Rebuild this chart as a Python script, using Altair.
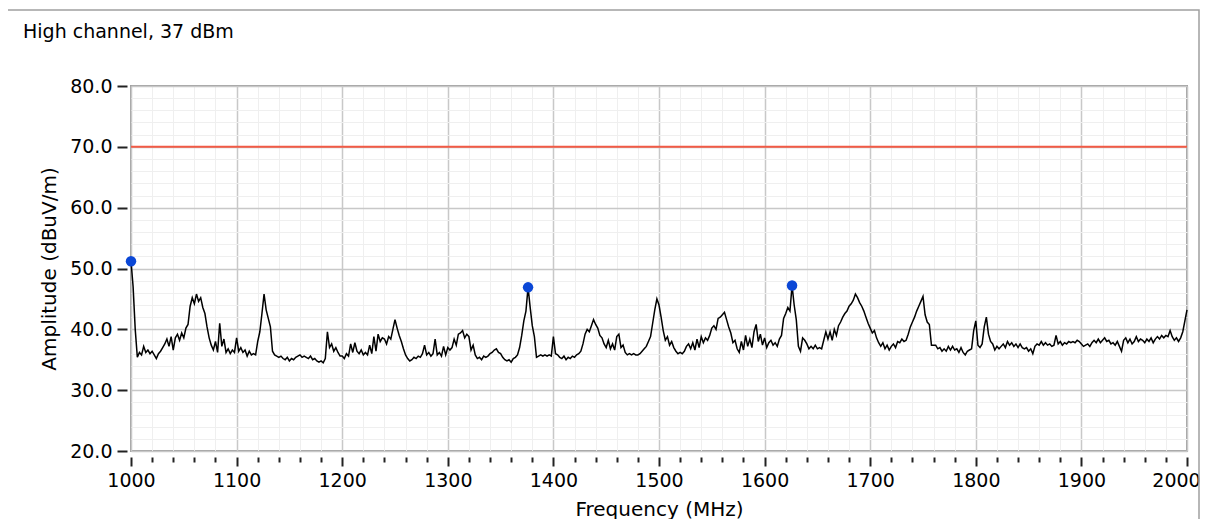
import altair as alt
import pandas as pd

# ---- data (2 MHz steps, 1000..2000 MHz) ----
seg_1000 = [51.2, 47.0, 40.0, 35.4, 36.2, 35.8, 37.2, 36.2, 36.6, 36.0,
            36.4, 35.8, 35.2, 36.0, 36.4, 37.0, 37.6, 38.4, 37.2, 38.8,
            36.6, 38.6, 39.2, 38.2, 39.4, 38.6, 40.2, 40.8, 43.8, 45.2,
            44.2, 45.8, 44.6, 45.2, 43.6, 42.6, 40.4, 38.6, 37.4, 36.6,
            38.0, 36.2, 41.0, 37.2, 38.4, 36.2, 36.8, 36.0, 36.6, 36.2]
seg_1100 = [38.6, 36.4, 37.0, 36.2, 36.6, 35.6, 36.4, 35.8, 36.0, 35.8,
            38.0, 39.6, 42.6, 45.8, 43.2, 41.8, 40.4, 36.4, 35.8, 35.6,
            35.4, 35.6, 35.2, 35.0, 35.4, 34.8, 35.2, 35.0, 35.4, 35.6,
            35.8, 35.4, 35.6, 35.4, 35.2, 35.6, 35.0, 35.2, 34.8, 34.6,
            34.8, 34.5, 35.2, 39.6, 37.0, 37.6, 36.4, 37.0, 36.2, 35.6]
seg_1200 = [35.6, 35.2, 36.0, 35.6, 37.6, 36.2, 37.8, 36.4, 36.0, 36.6,
            35.8, 36.2, 35.8, 37.4, 36.0, 38.8, 36.4, 39.2, 38.0, 38.6,
            38.4, 37.6, 38.8, 38.4, 40.0, 41.6, 40.2, 39.0, 38.0, 36.8,
            35.8, 35.2, 34.8, 35.0, 35.4, 35.2, 35.6, 35.4, 36.0, 37.4,
            35.8, 36.2, 35.6, 36.0, 38.4, 35.8, 36.2, 35.6, 37.2, 35.8]
seg_1300 = [37.0, 36.6, 37.0, 38.4, 37.4, 39.2, 39.4, 39.8, 38.6, 39.2,
            38.8, 36.6, 37.4, 35.8, 35.2, 35.4, 35.0, 35.6, 35.4, 35.6,
            36.0, 36.2, 36.6, 36.8, 36.2, 36.0, 35.4, 35.0, 34.8, 35.0,
            34.6, 35.2, 35.4, 35.8, 37.0, 39.0, 41.4, 43.0, 46.9, 43.6,
            40.6, 38.8, 35.4, 35.6, 35.8, 35.6, 35.8, 35.6, 35.8, 35.6]
seg_1400 = [38.8, 36.0, 35.8, 35.4, 35.2, 35.6, 35.0, 35.4, 35.2, 35.6,
            35.4, 35.8, 36.0, 36.4, 37.6, 39.2, 40.0, 39.6, 40.6, 41.6,
            40.8, 40.2, 39.0, 38.6, 37.6, 37.0, 38.2, 36.8, 37.6, 36.6,
            38.8, 39.2, 37.0, 37.4, 36.2, 35.8, 36.0, 35.8, 36.0, 35.8,
            35.8, 36.0, 36.4, 36.8, 37.2, 38.0, 38.8, 41.0, 43.2, 45.0]
seg_1500 = [44.0, 42.0, 39.8, 38.2, 38.8, 37.4, 38.0, 37.0, 36.4, 36.0,
            36.2, 36.0, 36.4, 37.2, 37.6, 36.8, 37.8, 36.6, 38.4, 37.0,
            38.8, 37.8, 38.6, 38.2, 39.0, 40.2, 40.6, 40.0, 41.8, 42.0,
            42.4, 42.8, 41.6, 40.4, 39.4, 37.8, 38.2, 36.8, 36.2, 38.0,
            36.6, 39.0, 37.2, 38.4, 37.0, 39.6, 40.8, 38.0, 39.2, 37.4]
seg_1600 = [38.6, 37.0, 37.8, 38.2, 37.4, 37.8, 37.2, 38.4, 39.0, 41.8,
            42.6, 43.6, 43.0, 47.2, 44.0, 41.6, 37.2, 36.4, 38.6, 38.2,
            37.6, 36.8, 37.2, 36.8, 37.4, 36.8, 37.0, 36.8, 38.2, 39.6,
            38.4, 39.6, 38.2, 40.0, 39.0, 40.6, 41.2, 42.0, 42.6, 43.0,
            43.8, 44.2, 44.8, 45.8, 45.2, 44.4, 43.8, 43.0, 42.0, 41.0]
seg_1700 = [40.2, 39.4, 39.8, 38.6, 37.8, 37.2, 37.8, 36.8, 37.4, 36.6,
            37.2, 37.6, 37.0, 38.0, 37.8, 38.4, 38.0, 38.2, 39.2, 40.4,
            41.2, 42.0, 43.0, 43.8, 44.6, 45.4, 42.4, 41.2, 40.8, 37.4,
            37.4, 37.4, 36.8, 37.0, 36.4, 36.8, 36.4, 37.2, 36.6, 37.2,
            36.6, 36.8, 36.2, 37.0, 36.2, 35.8, 36.4, 36.6, 36.8, 39.8]
seg_1800 = [41.4, 37.4, 37.0, 37.6, 40.4, 42.0, 39.2, 38.0, 37.6, 36.6,
            37.2, 36.8, 37.2, 37.6, 37.0, 38.0, 37.4, 37.8, 37.2, 37.6,
            37.0, 37.6, 37.0, 36.8, 37.0, 36.4, 36.8, 36.0, 37.2, 37.6,
            37.4, 38.0, 37.4, 37.8, 37.4, 37.6, 37.2, 37.4, 39.0, 37.6,
            38.0, 37.4, 37.8, 37.6, 38.0, 37.8, 38.0, 37.8, 38.2, 38.0]
seg_1900 = [37.6, 37.2, 37.4, 37.6, 37.2, 37.8, 38.2, 37.8, 38.4, 37.8,
            38.2, 38.6, 38.0, 38.2, 37.6, 37.8, 37.4, 38.0, 37.2, 36.4,
            38.2, 38.6, 37.8, 38.4, 37.6, 38.0, 38.8, 38.0, 38.4, 38.2,
            37.8, 38.4, 38.0, 38.6, 37.8, 38.4, 38.8, 38.4, 39.0, 38.6,
            39.0, 38.8, 39.8, 38.8, 38.2, 38.6, 38.0, 38.6, 39.6, 41.4,
            43.2]

segments = [(1000, seg_1000), (1100, seg_1100), (1200, seg_1200), (1300, seg_1300),
            (1400, seg_1400), (1500, seg_1500), (1600, seg_1600), (1700, seg_1700),
            (1800, seg_1800), (1900, seg_1900)]

peak_freq = [1000, 1376, 1626]
peak_amp = [51.2, 46.9, 47.2]
limit_value = [70.0]

x_ticks = list(range(1000, 2001, 20))
y_ticks = list(range(20, 81, 2))

freq, amp = [], []
for start, seg in segments:
    for i, v in enumerate(seg):
        freq.append(start + 2 * i)
        amp.append(v)

trace_df = pd.DataFrame({"freq": freq, "amp": amp})
peak_df = pd.DataFrame({"freq": peak_freq, "amp": peak_amp})
limit_df = pd.DataFrame({"amp": limit_value})

FONT = "DejaVu Sans"
W, H = 1056, 365

x_scale = alt.Scale(domain=[1000, 2000], nice=False, zero=False)
y_scale = alt.Scale(domain=[20, 80], nice=False, zero=False)

major_x = "datum.value % 100 === 0"
major_y = "datum.value % 10 === 0"

x_axis = alt.Axis(
    values=x_ticks, format="d", title="Frequency (MHz)",
    labelExpr=f"{major_x} ? datum.label : ''",
    labelOverlap=False, labelFlush=False,
    labelOffset={"condition": {"test": "datum.value === 2000", "value": -11}, "value": 0},
    tickSize={"condition": {"test": major_x, "value": 9}, "value": 5},
    tickWidth=2, tickColor="#222222",
    grid=True,
    gridColor={"condition": {"test": major_x, "value": "#c8c8c8"}, "value": "#efefef"},
    gridWidth={"condition": {"test": major_x, "value": 1.5}, "value": 1},
    domain=False, offset=6,
    labelFont=FONT, labelFontSize=19, labelColor="#000000", labelPadding=5,
    titleFont=FONT, titleFontSize=20, titleFontWeight="normal", titleColor="#000000",
    titlePadding=9,
)
y_axis = alt.Axis(
    values=y_ticks, format=".1f", title="Amplitude (dBuV/m)",
    labelExpr=f"{major_y} ? datum.label : ''",
    labelOverlap=False, labelFlush=False,
    tickSize=10,
    tickOpacity={"condition": {"test": major_y, "value": 1}, "value": 0},
    tickWidth=2, tickColor="#222222",
    grid=True,
    gridColor={"condition": {"test": major_y, "value": "#c8c8c8"}, "value": "#efefef"},
    gridWidth={"condition": {"test": major_y, "value": 1.5}, "value": 1},
    domain=False, offset=4,
    labelFont=FONT, labelFontSize=19, labelColor="#000000", labelPadding=5,
    titleFont=FONT, titleFontSize=20, titleFontWeight="normal", titleColor="#000000",
    titlePadding=10,
)

trace = alt.Chart(trace_df).mark_line(color="#000000", strokeWidth=1.5).encode(
    x=alt.X("freq:Q", scale=x_scale, axis=x_axis),
    y=alt.Y("amp:Q", scale=y_scale, axis=y_axis),
)

limit = alt.Chart(limit_df).mark_rule(color="#f25a45", strokeWidth=2).encode(
    y=alt.Y("amp:Q", scale=y_scale, axis=y_axis),
)

peaks = alt.Chart(peak_df).mark_circle(color="#0b47d6", size=110, opacity=1).encode(
    x=alt.X("freq:Q", scale=x_scale, axis=x_axis),
    y=alt.Y("amp:Q", scale=y_scale, axis=y_axis),
)

frame = alt.Chart(pd.DataFrame({"k": [0]})).mark_rect(
    fill=None, stroke="#a0a0a0", strokeWidth=1.5
).encode(
    x=alt.value(-124), x2=alt.value(1068), y=alt.value(-76), y2=alt.value(460)
)

title_text = alt.Chart(pd.DataFrame({"t": ["High channel, 37 dBm"]})).mark_text(
    align="left", baseline="middle", font=FONT, fontSize=19, color="#000000"
).encode(
    x=alt.value(-108), y=alt.value(-54), text="t:N"
)

chart = alt.layer(frame, limit, trace, peaks, title_text).properties(
    width=W, height=H,
    autosize=alt.AutoSizeParams(type="none"),
    padding={"left": 123, "top": 78, "right": 13, "bottom": 68},
    background="#ffffff",
).configure_view(stroke="#a0a0a0", strokeWidth=2)

chart.save("out.html", embed_options={"renderer": "svg", "actions": False})
